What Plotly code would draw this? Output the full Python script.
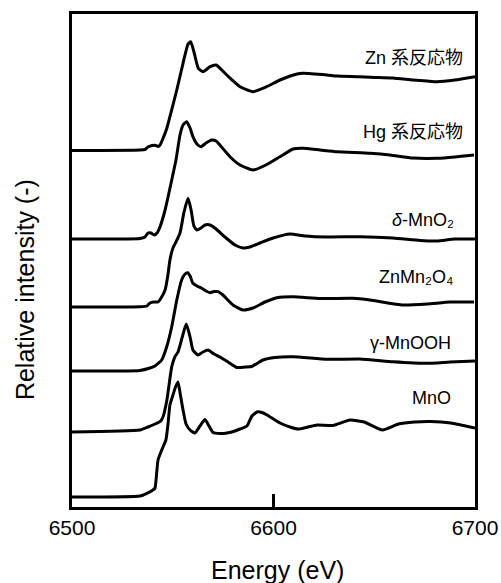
import plotly.graph_objects as go

# ---- data (energy in eV, relative intensity with stacking offset) ----
zn_e = [6500, 6533.7, 6536.2, 6537.7, 6539.7, 6541.7, 6542.7, 6543.7, 6545.2, 6547.1, 6548.6, 6552.0,
        6555.1, 6557.6, 6558.9, 6560.5, 6562.7, 6565.0, 6568.5, 6571.5, 6576.8, 6583.4, 6589.8, 6596.6,
        6603.2, 6611.7, 6614.6, 6626.6, 6631.5, 6642.9, 6647.9, 6659.3, 6669.2, 6676.2, 6681.1, 6690.0, 6700]
zn_i = [3.565, 3.57, 3.575, 3.60, 3.615, 3.615, 3.605, 3.62, 3.687, 3.79, 3.903, 4.17,
        4.437, 4.63, 4.653, 4.553, 4.387, 4.353, 4.403, 4.42, 4.32, 4.203, 4.153, 4.203,
        4.27, 4.33, 4.337, 4.32, 4.31, 4.303, 4.297, 4.29, 4.27, 4.26, 4.253, 4.27, 4.303]

hg_e = [6500, 6533.7, 6536.2, 6537.7, 6539.2, 6540.7, 6542.2, 6543.7, 6546.2, 6549.5, 6551.6, 6553.6,
        6555.1, 6556.9, 6558.6, 6560.0, 6562.0, 6564.0, 6566.5, 6569.3, 6571.5, 6573.4, 6578.4, 6583.4,
        6589.8, 6596.2, 6603.2, 6609.7, 6614.6, 6623.1, 6631.5, 6647.9, 6657.8, 6669.2, 6681.1, 6690.0, 6699.5]
hg_i = [2.68, 2.685, 2.70, 2.74, 2.74, 2.72, 2.74, 2.803, 2.97, 3.27, 3.47, 3.72,
        3.82, 3.853, 3.79, 3.703, 3.63, 3.603, 3.64, 3.67, 3.66, 3.62, 3.503, 3.42,
        3.37, 3.42, 3.503, 3.58, 3.587, 3.57, 3.553, 3.537, 3.52, 3.49, 3.487, 3.50, 3.52]

dmno2_e = [6500, 6533.7, 6537.2, 6538.7, 6540.7, 6542.7, 6544.2, 6546.2, 6547.6, 6548.6, 6550.1, 6551.6,
           6553.6, 6555.6, 6557.6, 6559.1, 6560.5, 6562.0, 6564.0, 6566.0, 6568.5, 6571.5, 6575.9, 6580.9,
           6584.9, 6588.3, 6593.3, 6599.8, 6608.2, 6615.6, 6626.6, 6642.9, 6659.3, 6672.7, 6681.1, 6690.0, 6700]
dmno2_i = [2.00, 2.003, 2.01, 2.04, 2.05, 2.05, 2.09, 2.17, 2.32, 2.47, 2.59, 2.65,
           2.74, 2.95, 3.087, 2.97, 2.81, 2.77, 2.79, 2.82, 2.82, 2.78, 2.70, 2.62,
           2.59, 2.60, 2.64, 2.69, 2.73, 2.71, 2.70, 2.703, 2.69, 2.665, 2.66, 2.68, 2.68]

znmn2o4_e = [6500, 6533.7, 6538.7, 6541.2, 6544.5, 6547.0, 6549.5, 6552.0, 6554.4, 6556.1, 6557.4, 6558.6,
             6560.0, 6562.0, 6564.4, 6566.5, 6568.5, 6570.5, 6572.5, 6574.9, 6579.9, 6584.9, 6589.8, 6595.8,
             6601.7, 6609.7, 6623.1, 6639.5, 6647.9, 6664.3, 6676.2, 6687.6, 6699.5]
znmn2o4_i = [1.36, 1.365, 1.39, 1.41, 1.47, 1.603, 1.803, 2.07, 2.27, 2.33, 2.343, 2.31,
             2.237, 2.21, 2.187, 2.16, 2.143, 2.155, 2.153, 2.12, 2.02, 1.97, 1.99, 2.05,
             2.093, 2.103, 2.085, 2.087, 2.07, 2.02, 2.03, 2.05, 2.05]

gmnooh_e = [6500, 6533.7, 6537.7, 6541.2, 6543.7, 6545.2, 6547.1, 6549.5, 6551.1, 6552.6, 6554.6, 6556.7,
            6558.6, 6560.0, 6562.5, 6565.0, 6567.5, 6570.5, 6573.4, 6577.4, 6581.7, 6585.9, 6589.2, 6594.8,
            6600.7, 6609.7, 6626.6, 6642.9, 6659.3, 6676.2, 6687.6, 6700]
gmnooh_i = [0.75, 0.77, 0.80, 0.83, 0.853, 0.903, 1.07, 1.403, 1.503, 1.55, 1.69, 1.83,
            1.70, 1.57, 1.52, 1.55, 1.57, 1.53, 1.50, 1.45, 1.395, 1.40, 1.405, 1.47,
            1.495, 1.503, 1.477, 1.48, 1.453, 1.437, 1.45, 1.46]

mno_e = [6500, 6533.7, 6537.2, 6540.2, 6541.2, 6542.7, 6545.2, 6546.6, 6547.6, 6548.6, 6550.1, 6551.4,
         6552.6, 6553.8, 6555.1, 6556.6, 6558.6, 6561.0, 6563.5, 6566.0, 6568.0, 6570.0, 6573.4, 6576.9,
         6580.9, 6583.4, 6586.8, 6589.3, 6591.8, 6594.3, 6596.8, 6603.2, 6608.2, 6612.2, 6617.1, 6621.6,
         6629.5, 6638.0, 6645.0, 6654.0, 6662.0, 6670.0, 6678.0, 6688.0, 6700]
mno_i = [0.10, 0.11, 0.137, 0.17, 0.19, 0.47, 0.603, 0.67, 0.82, 1.02, 1.12, 1.20,
         1.25, 1.12, 0.97, 0.83, 0.77, 0.74, 0.81, 0.875, 0.81, 0.745, 0.735, 0.74,
         0.76, 0.78, 0.81, 0.91, 0.95, 0.945, 0.92, 0.84, 0.80, 0.78, 0.80, 0.82,
         0.815, 0.87, 0.85, 0.77, 0.83, 0.85, 0.855, 0.84, 0.79]

series = [(zn_e, zn_i), (hg_e, hg_i), (dmno2_e, dmno2_i),
          (znmn2o4_e, znmn2o4_i), (gmnooh_e, gmnooh_i), (mno_e, mno_i)]

labels = ["Zn 系反応物", "Hg 系反応物", "<i>δ</i>-MnO₂", "ZnMn₂O₄", "γ-MnOOH", "MnO"]
label_x = [6695, 6695, 6690.5, 6690, 6689, 6689]
label_y = [4.495, 3.753, 2.87, 2.303, 1.637, 1.087]

x_ticks = [6500, 6600, 6700]

FONT = "Liberation Sans, Arial, Noto Sans CJK JP, sans-serif"

fig = go.Figure()
for e, i in series:
    fig.add_trace(go.Scatter(x=e, y=i, mode="lines",
                             line=dict(color="black", width=3, shape="spline", smoothing=0.5),
                             showlegend=False, hoverinfo="skip"))

for t, lx, ly in zip(labels, label_x, label_y):
    fig.add_annotation(x=lx, y=ly, text=t, showarrow=False, xanchor="right", yanchor="middle",
                       font=dict(family=FONT, size=18, color="black"))

fig.add_annotation(xref="paper", yref="paper", x=-0.1166, y=0.44, text="Relative intensity (-)",
                   textangle=-90, showarrow=False, xanchor="center", yanchor="middle",
                   font=dict(family=FONT, size=25, color="black"))
fig.add_annotation(xref="paper", yref="paper", x=0.51, y=-0.128, text="Energy (eV)",
                   showarrow=False, xanchor="center", yanchor="middle",
                   font=dict(family=FONT, size=25, color="black"))

fig.update_xaxes(range=[6500, 6700], tickvals=x_ticks, ticktext=[str(v) for v in x_ticks],
                 ticks="inside", ticklen=13, tickwidth=3, tickcolor="black",
                 showline=True, linecolor="black", linewidth=3, mirror=True,
                 showgrid=False, zeroline=False, automargin=False,
                 tickfont=dict(family=FONT, size=21, color="black"))
fig.update_yaxes(range=[0, 4.93], showticklabels=False, ticks="",
                 showline=True, linecolor="black", linewidth=3, mirror=True,
                 showgrid=False, zeroline=False, automargin=False)

fig.update_layout(width=501, height=583,
                  margin=dict(l=72, r=26, t=14, b=76, pad=0, autoexpand=False),
                  plot_bgcolor="white", paper_bgcolor="white", hovermode=False)

fig.write_html("out.html", config={"displayModeBar": False, "staticPlot": True},
               post_script="document.body.style.margin='0';"
                           "document.body.style.overflow='hidden';"
                           "document.documentElement.style.overflow='hidden';")
